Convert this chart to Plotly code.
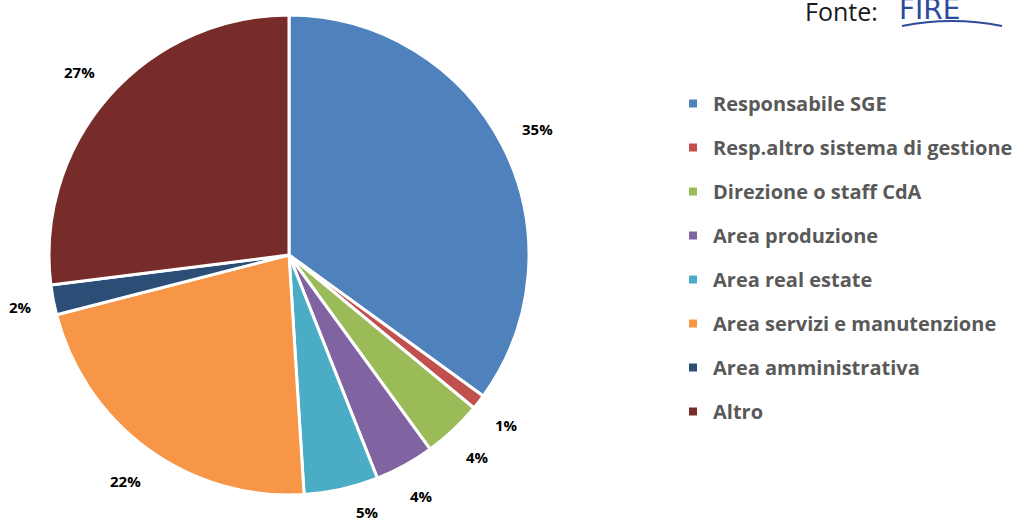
import math
import plotly.graph_objects as go

categories = ["Responsabile SGE", "Resp.altro sistema di gestione", "Direzione o staff CdA",
              "Area produzione", "Area real estate", "Area servizi e manutenzione",
              "Area amministrativa", "Altro"]
values = [35, 1, 4, 4, 5, 22, 2, 27]
colors = ["#4F81BD", "#C0504D", "#9BBB59", "#8064A2", "#4BACC6", "#F79646", "#2C4D75", "#772C2A"]

W, H = 1019, 522
# pie geometry (pixels)
cx, cy, R = 289, 255, 240
dom_x = [(cx - R) / W, (cx + R) / W]
dom_y = [1 - (cy + R) / H, 1 - (cy - R) / H]

fig = go.Figure()
fig.add_trace(go.Pie(
    labels=categories, values=values, sort=False, direction="clockwise", rotation=0,
    marker=dict(colors=colors, line=dict(color="white", width=3)),
    textinfo="none",
    domain=dict(x=dom_x, y=dom_y),
    showlegend=False, hoverinfo="label+percent",
))
for c, col in zip(categories, colors):
    fig.add_trace(go.Scatter(
        x=[None], y=[None], mode="markers", name=c, legendgroup=c,
        marker=dict(symbol="square", size=8, color=col),
    ))

# outside data labels, positioned from the slice mid-angles
annotations = []
total = sum(values)
cum = 0
for v in values:
    mid = (cum + v / 2) / total * 2 * math.pi
    cum += v
    s, c = math.sin(mid), math.cos(mid)
    txt = f"{v}%"
    w = 10 * len(txt) + 2
    h = 18
    ext = abs(s) * w / 2 + abs(c) * h / 2
    rl = R + 21 + ext
    px, py = cx + rl * s, cy - rl * c + 1
    if py > H - 10:
        px += (py - (H - 10)) * 2
        py = H - 10
    annotations.append(dict(text=f"<b>{txt}</b>", x=px / W, y=1 - py / H, xref="paper", yref="paper",
                            xanchor="center", yanchor="middle", showarrow=False,
                            font=dict(family="Open Sans", size=15, color="black")))

annotations += [
    dict(text="Fonte:", x=880 / W, y=1 - 11 / H, xref="paper", yref="paper",
         xanchor="right", yanchor="middle", showarrow=False,
         font=dict(family="Open Sans", size=25, color="#1a1a1a")),
    dict(text="FIRE", x=897 / W, y=1 - 9 / H, xref="paper", yref="paper",
         xanchor="left", yanchor="middle", showarrow=False,
         font=dict(family="DejaVu Sans", size=28, color="#2E4A9A")),
]

fig.update_layout(
    width=W, height=H, margin=dict(l=0, r=0, t=0, b=0),
    paper_bgcolor="white", plot_bgcolor="white",
    xaxis=dict(visible=False), yaxis=dict(visible=False),
    legend=dict(x=673 / W, y=1 - 84 / H, xanchor="left", yanchor="top",
                font=dict(family="Open Sans", size=20, color="#595959", weight="bold"),
                tracegroupgap=15.0, traceorder="grouped", bgcolor="rgba(0,0,0,0)"),
    annotations=annotations,
    shapes=[dict(type="path", xref="paper", yref="paper",
                 path=f"M {902/W} {1-26/H} Q {952/W} {1-16/H} {1002/W} {1-26/H}",
                 line=dict(color="#2E4A9A", width=2))],
)
fig.write_html("out.html")
